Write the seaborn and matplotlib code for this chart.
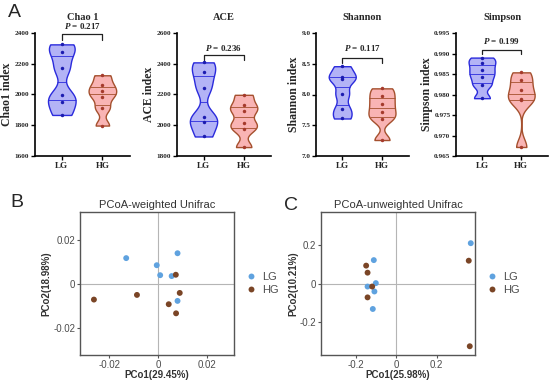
import numpy as np
import pandas as pd
import matplotlib
matplotlib.use('Agg')
import matplotlib.pyplot as plt
import seaborn as sns

groups = ['LG', 'HG']

# alpha diversity (6 samples per group)
chao1_lg = [2326, 2278, 2170, 1997, 1949, 1867]
chao1_hg = [2125, 2062, 2022, 1985, 1912, 1798]
ace_lg = [2409, 2347, 2245, 2053, 2021, 1927]
ace_hg = [2198, 2129, 2090, 2015, 1975, 1858]
shannon_lg = [8.46, 8.29, 8.25, 8.01, 7.76, 7.61]
shannon_hg = [8.10, 7.97, 7.84, 7.71, 7.60, 7.26]
simpson_lg = [0.9890, 0.9876, 0.9859, 0.9843, 0.9823, 0.9791]
simpson_hg = [0.9854, 0.9836, 0.9812, 0.9790, 0.9786, 0.9672]

alpha_titles = ['Chao 1', 'ACE', 'Shannon', 'Simpson']
alpha_ylabels = ['Chao1 index', 'ACE index', 'Shannon index', 'Simpson index']
p_values = [0.217, 0.236, 0.117, 0.199]
alpha_yticks = [[1600, 1800, 2000, 2200, 2400],
                [1800, 2000, 2200, 2400, 2600],
                [7.0, 7.5, 8.0, 8.5, 9.0],
                [0.965, 0.970, 0.975, 0.980, 0.985, 0.990, 0.995]]
alpha_ticklabels = [['1600', '1800', '2000', '2200', '2400'],
                    ['1800', '2000', '2200', '2400', '2600'],
                    ['7.0', '7.5', '8.0', '8.5', '9.0'],
                    ['0.965', '0.970', '0.975', '0.980', '0.985', '0.990', '0.995']]
# bracket: leg bottom, bracket top, text centre
brackets = [(2355, 2392, 2445), (2424, 2456, 2504), (8.52, 8.597, 8.76), (0.9898, 0.9908, 0.9930)]

# PCoA coordinates
w_pc1_lg = [0.0079, -0.0131, -0.0006, 0.0008, 0.0055, 0.0079]
w_pc2_lg = [0.0139, 0.0117, 0.0085, 0.0040, 0.0036, -0.0076]
w_pc1_hg = [0.0072, -0.0263, -0.0087, 0.0088, 0.0043, 0.0073]
w_pc2_hg = [0.0042, -0.0070, -0.0049, -0.0040, -0.0091, -0.0132]
u_pc1_lg = [0.369, -0.112, -0.102, -0.143, -0.109, -0.117]
u_pc2_lg = [0.212, 0.123, 0.002, -0.016, -0.042, -0.134]
u_pc1_hg = [0.359, -0.150, -0.143, -0.120, -0.143, 0.364]
u_pc2_hg = [0.120, 0.094, 0.057, -0.016, -0.073, -0.330]

sns.set_style('ticks')
plt.rcParams['font.family'] = ['Liberation Serif', 'DejaVu Serif']
plt.rcParams['mathtext.fontset'] = 'custom'
plt.rcParams['mathtext.rm'] = 'Liberation Serif:bold'
plt.rcParams['mathtext.it'] = 'Liberation Serif:italic:bold'

fill = {'LG': '#b3b3f6', 'HG': '#f9b4b4'}
edge = {'LG': '#2b2bdc', 'HG': '#a5502e'}
dots = {'LG': '#1c1cb0', 'HG': '#a53a2c'}

alpha_data = [(chao1_lg, chao1_hg), (ace_lg, ace_hg),
              (shannon_lg, shannon_hg), (simpson_lg, simpson_hg)]

fig = plt.figure(figsize=(5.5, 3.8), dpi=100)

lefts = [35, 177, 316, 456]
widths = [95, 94, 93, 92]
for i in range(4):
    ax = fig.add_axes([lefts[i] / 550, 1 - 156 / 380, widths[i] / 550, 123 / 380])
    lg, hg = alpha_data[i]
    df = pd.DataFrame({'group': ['LG'] * len(lg) + ['HG'] * len(hg), 'value': lg + hg})
    for g in groups:
        sub = df[df['group'] == g]
        sns.violinplot(data=sub, x='group', y='value', order=groups, color=fill[g],
                       linecolor=edge[g], linewidth=1.0, cut=0, bw_adjust=0.42,
                       inner='quart', inner_kws=dict(dashes=(4, 0), linewidth=0.6),
                       density_norm='width', width=0.68, saturation=1, ax=ax)
        sns.stripplot(data=sub, x='group', y='value', order=groups, color=dots[g],
                      size=2.5, jitter=False, ax=ax)
    ax.set_xlim(-0.66, 1.68)
    ax.set_ylim(alpha_yticks[i][0], alpha_yticks[i][-1])
    ax.set_yticks(alpha_yticks[i])
    ax.set_yticklabels(alpha_ticklabels[i], fontsize=5.2, fontweight='bold')
    ax.set_xticks([0, 1])
    ax.set_xticklabels(groups, fontsize=6.5, fontweight='bold')
    ax.set_xlabel('')
    ax.set_ylabel(alpha_ylabels[i], fontsize=8.5, fontweight='bold', labelpad=1)
    ax.set_title(alpha_titles[i], fontsize=7.5, fontweight='bold', pad=9)
    for s in ['top', 'right']:
        ax.spines[s].set_visible(False)
    for s in ['left', 'bottom']:
        ax.spines[s].set_linewidth(1.2)
        ax.spines[s].set_color('black')
    ax.tick_params(axis='y', length=3, width=1.0, pad=1, color='black')
    ax.tick_params(axis='x', length=3, width=1.0, pad=1.5, color='black')
    y0, y1, yt = brackets[i]
    ax.plot([0, 0, 1, 1], [y0, y1, y1, y0], color='#222222', linewidth=0.9, clip_on=False)
    ax.text(0.5, yt, r'$P$ = ' + f'{p_values[i]:.3f}', ha='center', va='center',
            fontsize=6.5, fontweight='bold', clip_on=False)

# PCoA panels
sans = ['Liberation Sans', 'DejaVu Sans']
pcoa_colors = {'LG': '#5fa2df', 'HG': '#7a4526'}
pcoa_sets = [
    (w_pc1_lg, w_pc2_lg, w_pc1_hg, w_pc2_hg, 'PCoA-weighted Unifrac',
     'PCo1(29.45%)', 'PCo2(18.98%)', [-0.02, 0, 0.02], (-0.032, 0.031), (-0.032, 0.0325), 80),
    (u_pc1_lg, u_pc2_lg, u_pc1_hg, u_pc2_hg, 'PCoA-unweighted Unifrac',
     'PCo1(25.98%)', 'PCo2(10.21%)', [-0.2, 0, 0.2], (-0.374, 0.39), (-0.376, 0.376), 321),
]
for x_lg, y_lg, x_hg, y_hg, title, xl, yl, ticks, xlim, ylim, left in pcoa_sets:
    ax = fig.add_axes([left / 550, 1 - 355 / 380, 154 / 550, 143 / 380])
    df = pd.DataFrame({'pc1': x_lg + x_hg, 'pc2': y_lg + y_hg,
                       'group': ['LG'] * len(x_lg) + ['HG'] * len(x_hg)})
    ax.axhline(0, color='#b5b5b5', linewidth=0.8, zorder=0)
    ax.axvline(0, color='#b5b5b5', linewidth=0.8, zorder=0)
    sns.scatterplot(data=df, x='pc1', y='pc2', hue='group', hue_order=groups,
                    palette=pcoa_colors, s=18, linewidth=0, ax=ax)
    ax.set_xlim(*xlim)
    ax.set_ylim(*ylim)
    ax.set_xticks(ticks)
    ax.set_yticks(ticks)
    lbl = [f'{t:g}' for t in ticks]
    ax.set_xticklabels(lbl, fontsize=7, family=sans, color='#4d4d4d')
    ax.set_yticklabels(lbl, fontsize=7, family=sans, color='#4d4d4d')
    ax.set_xlabel(xl, fontsize=7, family=sans, fontweight='bold', color='#333333', labelpad=0)
    ax.set_ylabel(yl, fontsize=7, family=sans, fontweight='bold', color='#333333', labelpad=1)
    ax.set_title(title, fontsize=8, family=sans, color='#333333', pad=3)
    for s in ax.spines.values():
        s.set_color('#555555')
        s.set_linewidth(1.0)
    ax.tick_params(axis='both', length=2.5, width=0.8, color='#555555', pad=1)
    sns.move_legend(ax, 'center left', bbox_to_anchor=(1.0, 0.5), frameon=False, title=None,
                    handletextpad=0.0, borderaxespad=0.1, labelspacing=0.3,
                    prop={'family': sans, 'size': 8}, labelcolor='#4d4d4d')

fig.text(0.015, 0.968, 'A', fontsize=14, family=sans, va='center')
fig.text(0.018, 0.466, 'B', fontsize=14, family=sans, va='center')
fig.text(0.516, 0.458, 'C', fontsize=14, family=sans, va='center')

fig.savefig('out.png', dpi=100)
